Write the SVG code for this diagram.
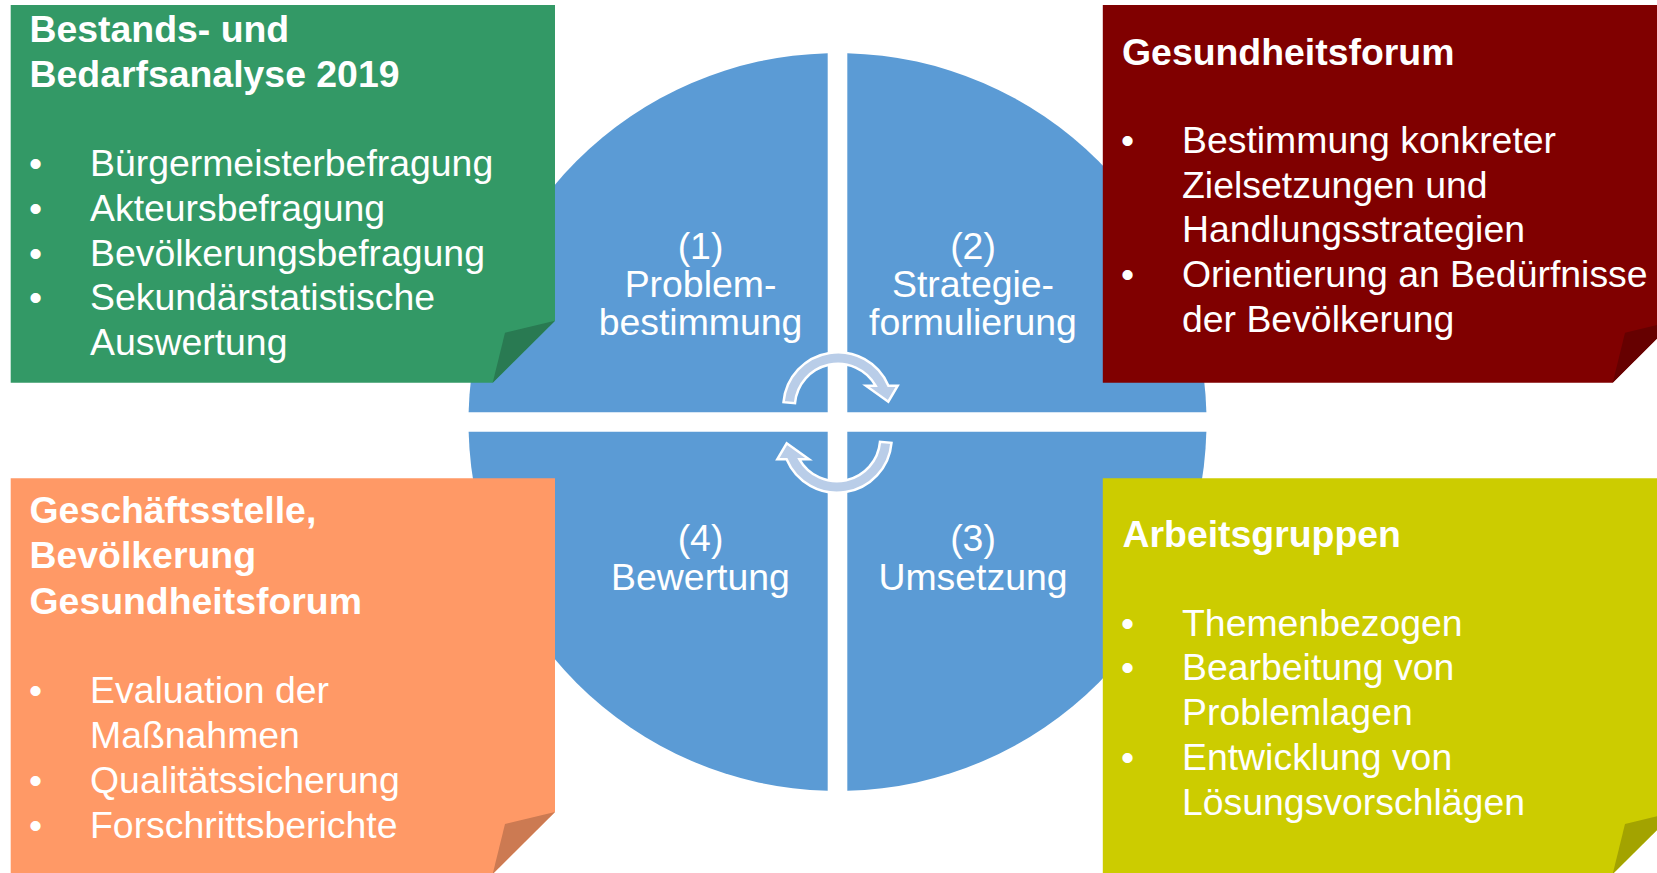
<svg xmlns="http://www.w3.org/2000/svg" width="1657" height="873" viewBox="0 0 1657 873">
<style>
.q{fill:#5B9BD5}
.t{font-family:"Liberation Sans",Arial,sans-serif;font-size:37.4px;fill:#FFFFFF}
.b{font-weight:bold}
.c{text-anchor:middle}
.arr{fill:#B9CDE8;stroke:#FFFFFF;stroke-width:2.5;stroke-linejoin:miter}
</style>
<rect x="0" y="0" width="1657" height="873" fill="#FFFFFF"/>
<g id="cycle">
<path class="q" d="M827.7,412.2 L468.63,412.2 A369,369 0 0 1 827.7,53.13 Z"/>
<path class="q" d="M847.3,412.2 L847.3,53.13 A369,369 0 0 1 1206.37,412.2 Z"/>
<path class="q" d="M847.3,431.8 L1206.37,431.8 A369,369 0 0 1 847.3,790.87 Z"/>
<path class="q" d="M827.7,431.8 L827.7,790.87 A369,369 0 0 1 468.63,431.8 Z"/>
</g>
<g id="step1">
<text class="t c" x="700.5" y="259">(1)</text>
<text class="t c" x="700.5" y="297.2">Problem-</text>
<text class="t c" x="700.5" y="335.4">bestimmung</text>
</g>
<g id="step2">
<text class="t c" x="973" y="259">(2)</text>
<text class="t c" x="973" y="297.2">Strategie-</text>
<text class="t c" x="973" y="335.4">formulierung</text>
</g>
<g id="step3">
<text class="t c" x="973" y="551.3">(3)</text>
<text class="t c" x="973" y="589.5">Umsetzung</text>
</g>
<g id="step4">
<text class="t c" x="700.5" y="551.3">(4)</text>
<text class="t c" x="700.5" y="589.5">Bewertung</text>
</g>
<g id="connectors">
<path class="arr" d="M783.5,402.2 A54.7,54.7 0 0 1 888.4,385.7 L897.7,385.7 L888.3,401.7 L866,385.7 L875.6,385.7 A43.2,43.2 0 0 0 795,403.2 Z"/>
<path class="arr" transform="rotate(180 837.5 422.5)" d="M783.5,402.2 A54.7,54.7 0 0 1 888.4,385.7 L897.7,385.7 L888.3,401.7 L866,385.7 L875.6,385.7 A43.2,43.2 0 0 0 795,403.2 Z"/>
</g>
<g id="box-analyse">
<path fill="#339966" d="M10.7,5 L555,5 L555,320.7 L492.7,382.7 L10.7,382.7 Z"/>
<path fill="#297A52" d="M555,320.7 L505,332.7 L492.7,382.7 Z"/>
<text class="t b" x="29.5" y="42">Bestands- und</text>
<text class="t b" x="29.5" y="86.5">Bedarfsanalyse 2019</text>
<text class="t" x="29" y="176">•</text><text class="t" x="90" y="176">Bürgermeisterbefragung</text>
<text class="t" x="29" y="220.7">•</text><text class="t" x="90" y="220.7">Akteursbefragung</text>
<text class="t" x="29" y="265.5">•</text><text class="t" x="90" y="265.5">Bevölkerungsbefragung</text>
<text class="t" x="29" y="310.3">•</text><text class="t" x="90" y="310.3">Sekundärstatistische</text>
<text class="t" x="90" y="355">Auswertung</text>
</g>
<g id="box-forum">
<path fill="#800000" d="M1102.8,5 L1675,5 L1675,320.7 L1612.7,382.7 L1102.8,382.7 Z"/>
<path fill="#660000" d="M1675,320.7 L1625,332.7 L1612.7,382.7 Z"/>
<text class="t b" x="1122" y="65">Gesundheitsforum</text>
<text class="t" x="1121" y="153">•</text><text class="t" x="1182" y="153">Bestimmung konkreter</text>
<text class="t" x="1182" y="197.7">Zielsetzungen und</text>
<text class="t" x="1182" y="242.4">Handlungsstrategien</text>
<text class="t" x="1121" y="287">•</text><text class="t" x="1182" y="287">Orientierung an Bedürfnisse</text>
<text class="t" x="1182" y="331.7">der Bevölkerung</text>
</g>
<g id="box-evaluation">
<path fill="#FF9966" d="M10.7,478.3 L555,478.3 L555,812 L492.7,874 L10.7,874 Z"/>
<path fill="#CC7A52" d="M555,812 L505,824 L492.7,874 Z"/>
<text class="t b" x="29.5" y="523.3">Geschäftsstelle,</text>
<text class="t b" x="29.5" y="568.3">Bevölkerung</text>
<text class="t b" x="29.5" y="613.5">Gesundheitsforum</text>
<text class="t" x="29" y="703.3">•</text><text class="t" x="90" y="703.3">Evaluation der</text>
<text class="t" x="90" y="748">Maßnahmen</text>
<text class="t" x="29" y="792.7">•</text><text class="t" x="90" y="792.7">Qualitätssicherung</text>
<text class="t" x="29" y="837.5">•</text><text class="t" x="90" y="837.5">Forschrittsberichte</text>
</g>
<g id="box-arbeitsgruppen">
<path fill="#CCCC00" d="M1102.8,478.3 L1675,478.3 L1675,812 L1612.7,874 L1102.8,874 Z"/>
<path fill="#A3A300" d="M1675,812 L1625,824 L1612.7,874 Z"/>
<text class="t b" x="1122.5" y="547">Arbeitsgruppen</text>
<text class="t" x="1121" y="635.7">•</text><text class="t" x="1182" y="635.7">Themenbezogen</text>
<text class="t" x="1121" y="680.4">•</text><text class="t" x="1182" y="680.4">Bearbeitung von</text>
<text class="t" x="1182" y="725">Problemlagen</text>
<text class="t" x="1121" y="770">•</text><text class="t" x="1182" y="770">Entwicklung von</text>
<text class="t" x="1182" y="815">Lösungsvorschlägen</text>
</g>
</svg>
